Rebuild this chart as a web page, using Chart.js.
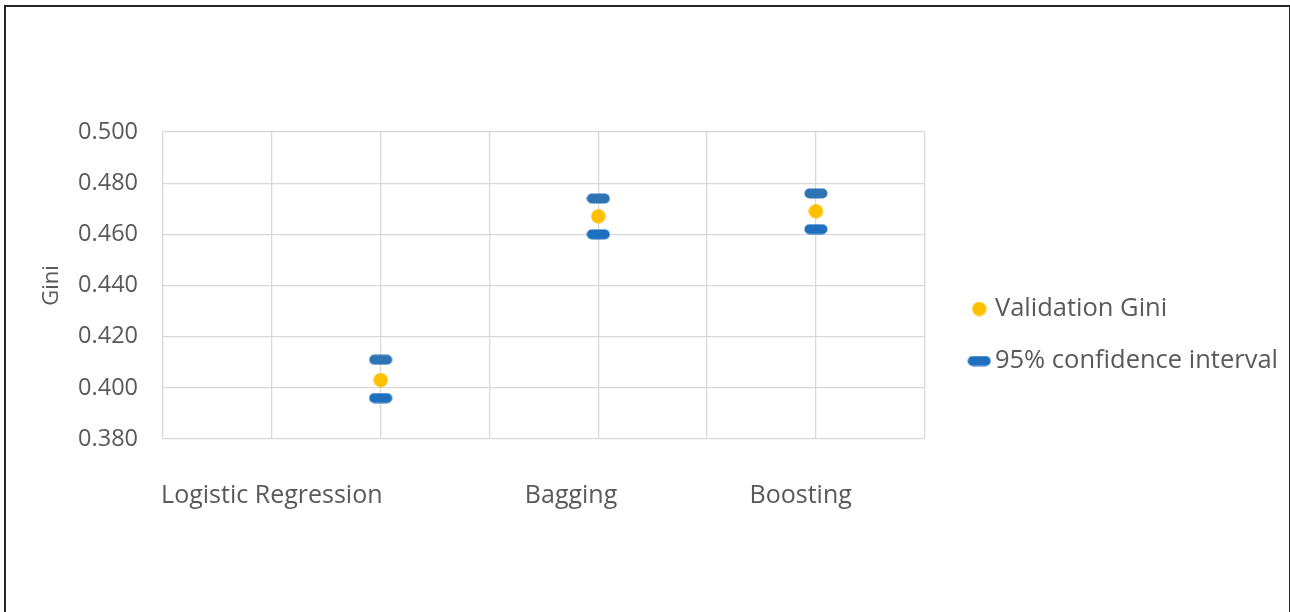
<!DOCTYPE html>
<html>
<head>
<meta charset="utf-8">
<script src="https://cdn.jsdelivr.net/npm/chart.js@4.4.1/dist/chart.umd.min.js"></script>
<style>
  html, body { margin: 0; padding: 0; background: #fff; }
  #frame {
    position: absolute; left: 4px; top: 5px;
    width: 1283px; height: 607px;
    border: 2px solid #262626; border-bottom: none;
  }
  canvas { display: block; }
</style>
</head>
<body>
<div id="frame"><canvas id="chart" width="1283" height="607"></canvas></div>
<script>
// Models and where their labels sit on the 0..7 x range
const categories = ['Logistic Regression', 'Bagging', 'Boosting'];
const categoryX = [2, 4, 6];
const labelAt = [1, 3.75, 5.86];

// Gini values
const validationGini = [0.403, 0.467, 0.469];
const ciUpper = [0.411, 0.474, 0.476];
const ciLower = [0.396, 0.460, 0.462];

const yTicks = [0.38, 0.40, 0.42, 0.44, 0.46, 0.48, 0.50];

const FONT = '"Open Sans", "Noto Sans", sans-serif';
const TEXT = '#595959';
const GRID = '#D9D9D9';
const LEGEND_SIZE = 25.5;

function dotImage(color) {
  const c = document.createElement('canvas');
  c.width = 15; c.height = 15;
  const g = c.getContext('2d');
  g.fillStyle = color;
  g.beginPath();
  g.arc(7.5, 7.5, 7.2, 0, Math.PI * 2);
  g.fill();
  return c;
}

function dashImage(color) {
  const c = document.createElement('canvas');
  c.width = 24; c.height = 11;
  const g = c.getContext('2d');
  g.fillStyle = color;
  g.beginPath();
  g.roundRect(0.5, 0.5, 23, 10, 5);
  g.fill();
  return c;
}

const toPoints = vals => vals.map((v, i) => ({ x: categoryX[i], y: v }));

// legend width depends on the text, so keep the plot's right edge fixed
const m = document.createElement('canvas').getContext('2d');
m.font = LEGEND_SIZE + 'px ' + FONT;
const legendTextW = m.measureText('95% confidence interval').width;
const padRight = Math.max(0, Math.round(284.25 - legendTextW));

new Chart(document.getElementById('chart'), {
  type: 'scatter',
  data: {
    datasets: [
      {
        label: 'Validation Gini',
        data: toPoints(validationGini),
        pointStyle: dotImage('#FFC000'),
        backgroundColor: '#FFC000'
      },
      {
        label: '95% confidence interval',
        data: toPoints(ciLower),
        pointStyle: dashImage('#1F6FBF'),
        backgroundColor: '#1F6FBF'
      },
      {
        label: '95% confidence interval (upper)',
        data: toPoints(ciUpper),
        pointStyle: dashImage('#2E74B5'),
        backgroundColor: '#2E74B5'
      }
    ]
  },
  options: {
    responsive: false,
    animation: false,
    layout: { padding: { top: 125, bottom: 76, left: 0, right: padRight } },
    plugins: {
      tooltip: { enabled: false },
      legend: {
        position: 'right',
        maxWidth: 600,
        labels: {
          usePointStyle: true,
          boxWidth: 6,
          boxHeight: 6,
          padding: 26.5,
          color: TEXT,
          font: { family: FONT, size: LEGEND_SIZE },
          filter: item => item.datasetIndex !== 2
        }
      }
    },
    scales: {
      x: {
        type: 'linear',
        min: 0, max: 7,
        ticks: { display: false, stepSize: 1 },
        grid: { color: GRID, lineWidth: 1.3, drawTicks: false },
        border: { display: false }
      },
      xl: {
        type: 'linear',
        position: 'bottom',
        min: 0, max: 7,
        afterBuildTicks: s => { s.ticks = labelAt.map(v => ({ value: v })); },
        afterFit: s => { s.height = 99; },
        ticks: {
          color: TEXT,
          font: { family: FONT, size: 25 },
          padding: 42,
          maxRotation: 0,
          autoSkip: false,
          callback: (v, i) => categories[i]
        },
        grid: { display: false, drawTicks: false },
        border: { display: false }
      },
      y: {
        min: 0.38, max: 0.5,
        afterBuildTicks: s => { s.ticks = yTicks.map(v => ({ value: v })); },
        afterFit: s => { s.width = 157; },
        ticks: {
          color: TEXT,
          font: { family: FONT, size: 23.5 },
          padding: 25,
          callback: v => v.toFixed(3)
        },
        grid: { color: GRID, lineWidth: 1.3, drawTicks: false },
        border: { display: false },
        title: {
          display: true,
          text: 'Gini',
          color: TEXT,
          font: { family: FONT, size: 22 },
          padding: { top: 33, bottom: 0 }
        }
      },
      y2: {
        position: 'right',
        afterFit: s => { s.width = 25; },
        ticks: { display: false },
        grid: { display: false, drawTicks: false },
        border: { display: false }
      }
    }
  }
});
</script>
</body>
</html>
